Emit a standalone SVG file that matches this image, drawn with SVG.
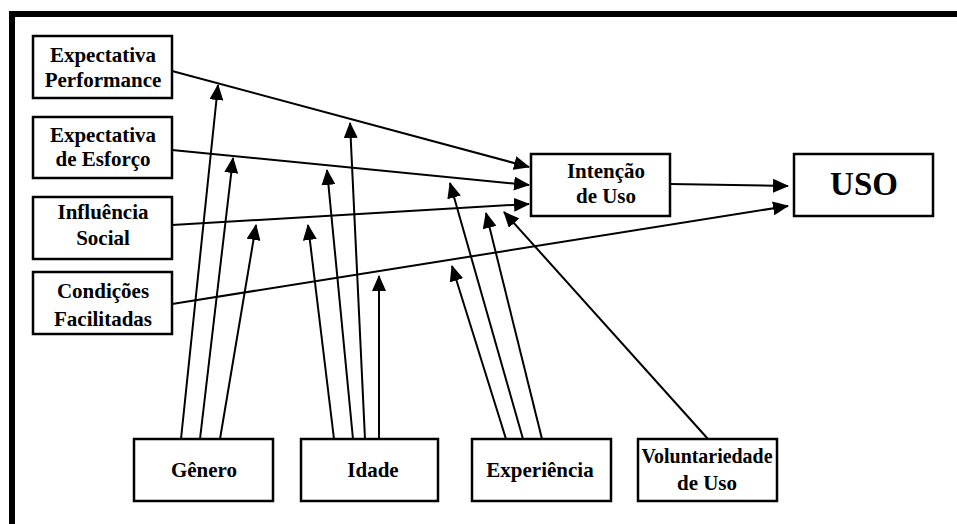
<svg xmlns="http://www.w3.org/2000/svg" width="957" height="524" viewBox="0 0 957 524">
  <style>
    .box { fill: #fff; stroke: #000; stroke-width: 2.5; }
    .lbl { font-family: 'Liberation Serif', 'Times New Roman', serif; font-weight: bold; font-size: 21px; fill: #000; text-anchor: middle; }
    .big { font-size: 33px; }
    .edge { fill: none; stroke: #000; stroke-width: 2; marker-end: url(#arrow); }
  </style>
  <defs>
    <marker id="arrow" markerUnits="userSpaceOnUse" markerWidth="16" markerHeight="14" refX="15" refY="7" orient="auto">
      <path d="M0,0 L16,7 L0,14 z" fill="#000"/>
    </marker>
  </defs>

  <rect width="957" height="524" fill="#fff"/>
  <!-- outer frame (top and left edges) -->
  <rect x="12" y="14" width="970" height="540" fill="none" stroke="#000" stroke-width="6"/>

  <g id="connectors">
    <!-- constructs to intention / use -->
    <line class="edge" x1="172" y1="71" x2="529" y2="167"/>
    <line class="edge" x1="172" y1="150" x2="529" y2="185"/>
    <line class="edge" x1="172" y1="225" x2="529" y2="204"/>
    <line class="edge" x1="172" y1="304" x2="788" y2="206"/>
    <line class="edge" x1="670" y1="184" x2="788" y2="186"/>
    <!-- Gênero moderating -->
    <line class="edge" x1="181" y1="439" x2="218" y2="85"/>
    <line class="edge" x1="200" y1="439" x2="233" y2="158"/>
    <line class="edge" x1="220" y1="439" x2="256" y2="225"/>
    <!-- Idade moderating -->
    <line class="edge" x1="334" y1="439" x2="308" y2="225"/>
    <line class="edge" x1="353" y1="439" x2="327" y2="170"/>
    <line class="edge" x1="365" y1="439" x2="350" y2="123"/>
    <line class="edge" x1="379" y1="439" x2="379" y2="276"/>
    <!-- Experiência moderating -->
    <line class="edge" x1="506" y1="439" x2="452" y2="266"/>
    <line class="edge" x1="523" y1="439" x2="450" y2="183"/>
    <line class="edge" x1="542" y1="439" x2="486" y2="213"/>
    <!-- Voluntariedade moderating -->
    <line class="edge" x1="708" y1="439" x2="504" y2="212"/>
  </g>

  <g id="expectativa-performance">
    <rect class="box" x="33" y="36" width="139" height="62"/>
    <text class="lbl" x="103" y="62">Expectativa</text>
    <text class="lbl" x="103" y="87">Performance</text>
  </g>
  <g id="expectativa-esforco">
    <rect class="box" x="33" y="117" width="139" height="61"/>
    <text class="lbl" x="103" y="142">Expectativa</text>
    <text class="lbl" x="103" y="166">de Esforço</text>
  </g>
  <g id="influencia-social">
    <rect class="box" x="33" y="197" width="139" height="62"/>
    <text class="lbl" x="103" y="219">Influência</text>
    <text class="lbl" x="103" y="245">Social</text>
  </g>
  <g id="condicoes-facilitadas">
    <rect class="box" x="33" y="272" width="139" height="62"/>
    <text class="lbl" x="103" y="298">Condições</text>
    <text class="lbl" x="103" y="326">Facilitadas</text>
  </g>
  <g id="intencao-de-uso">
    <rect class="box" x="531" y="154" width="139" height="62"/>
    <text class="lbl" x="606" y="178">Intenção</text>
    <text class="lbl" x="606" y="203">de Uso</text>
  </g>
  <g id="uso">
    <rect class="box" x="794" y="154" width="139" height="62"/>
    <text class="lbl big" x="864" y="195">USO</text>
  </g>
  <g id="genero">
    <rect class="box" x="134" y="439" width="139" height="62"/>
    <text class="lbl" x="204" y="477">Gênero</text>
  </g>
  <g id="idade">
    <rect class="box" x="301" y="439" width="137" height="62"/>
    <text class="lbl" x="373" y="477">Idade</text>
  </g>
  <g id="experiencia">
    <rect class="box" x="472" y="439" width="139" height="62"/>
    <text class="lbl" x="540" y="477">Experiência</text>
  </g>
  <g id="voluntariedade-de-uso">
    <rect class="box" x="638" y="439" width="139" height="62"/>
    <text class="lbl" x="707" y="463" textLength="131" lengthAdjust="spacingAndGlyphs">Voluntariedade</text>
    <text class="lbl" x="707" y="490">de Uso</text>
  </g>
</svg>
